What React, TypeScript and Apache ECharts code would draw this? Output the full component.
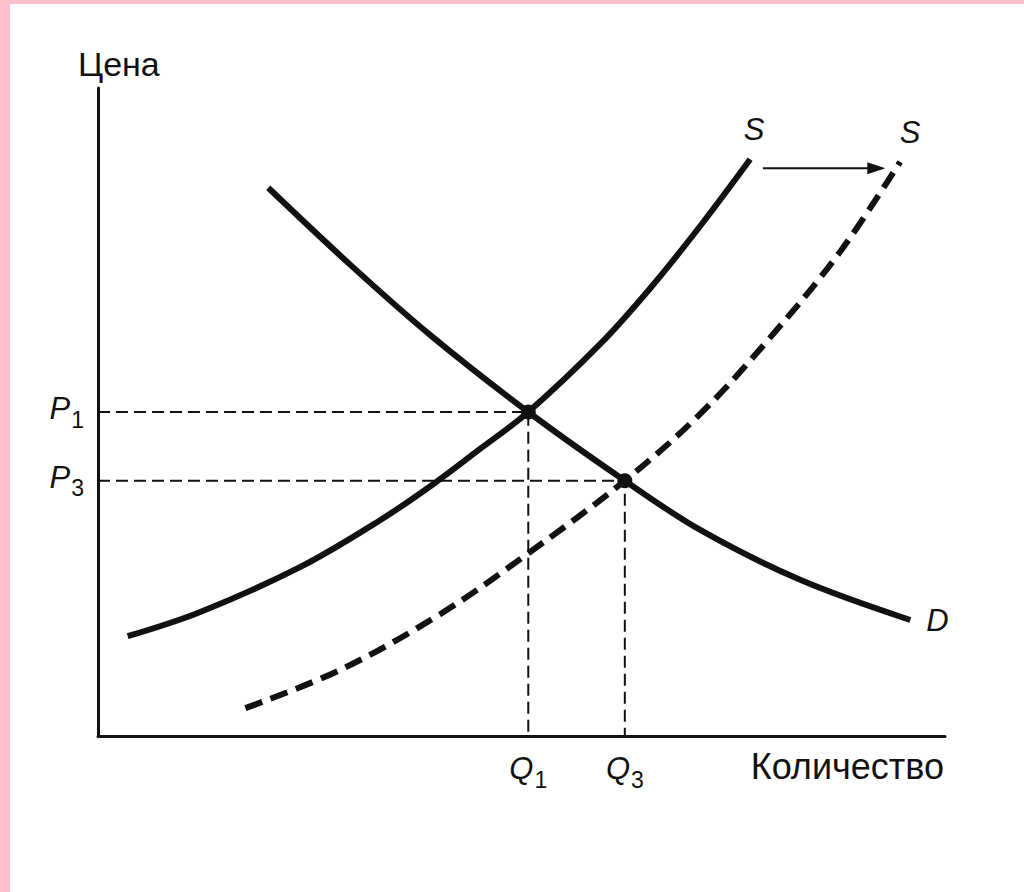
import React, { useEffect, useRef } from "react";
import * as echarts from "echarts";

// Curves (quantity, price) in axis units 0..100
const supplyS: [number, number][] = [
  [3.5, 15.4], [12, 19.1], [23.9, 26.1], [33.3, 33.3], [39.4, 38.7], [45.1, 44.3],
  [50.8, 50], [59.3, 60.5], [65.2, 69.1], [71.1, 78.7], [77, 89],
];
const supplyS2: [number, number][] = [
  [17.4, 4.3], [28.6, 10.2], [40.4, 18.8], [50.8, 28.2], [62.2, 39.4],
  [71.1, 49.7], [79.3, 61.4], [87.6, 74.7], [94.7, 88.6],
];
const demandD: [number, number][] = [
  [20.1, 84.6], [29.8, 72.7], [39.2, 61.9], [50.8, 50], [62.2, 39.4],
  [71.1, 31.8], [82.9, 24.1], [95.9, 17.9],
];
const Q1 = 50.8;
const Q3 = 62.2;
const P1 = 50;
const P3 = 39.4;
const shiftArrow: [number, number][] = [[78.5, 87.6], [92.6, 87.6]];
const yTitle = "Цена";
const xTitle = "Количество";

const INK = "#111";
const FONT = "Liberation Sans, Arial, Helvetica, sans-serif";

export default function App() {
  const ref = useRef<HTMLDivElement>(null);
  useEffect(() => {
    document.body.style.margin = "0";
    const chart = echarts.init(ref.current!, null, { renderer: "svg" });
    const sub = (v: string) => `{p|${v.charAt(0)}}{s|${v.slice(1)}}`;
    const rich = {
      p: { fontSize: 31, fontStyle: "italic", fontFamily: FONT, color: INK, lineHeight: 34, verticalAlign: "bottom" },
      s: { fontSize: 23, fontFamily: FONT, color: INK, lineHeight: 34, verticalAlign: "bottom", padding: [0, 0, -7, 1] },
    };
    const letter = { fontSize: 31, fontStyle: "italic", fontFamily: FONT, color: INK };
    chart.setOption({
      animation: false,
      backgroundColor: "#fff",
      grid: { left: 98, top: 88, width: 847, height: 648 },
      xAxis: {
        type: "value", min: 0, max: 100,
        axisLine: { show: true, lineStyle: { color: INK, width: 3 } },
        axisTick: { show: false }, axisLabel: { show: false }, splitLine: { show: false },
      },
      yAxis: {
        type: "value", min: 0, max: 100,
        axisLine: { show: true, lineStyle: { color: INK, width: 3 } },
        axisTick: { show: false }, axisLabel: { show: false }, splitLine: { show: false },
      },
      graphic: [
        { type: "rect", shape: { x: 0, y: 0, width: 10, height: 892 }, style: { fill: "#FFC0CB" } },
        { type: "rect", shape: { x: 0, y: 0, width: 1024, height: 4 }, style: { fill: "#FFC0CB" } },
        { type: "text", x: 78, y: 47, style: { text: yTitle, font: `34px ${FONT}`, fill: INK } },
        { type: "text", x: 944, y: 748, style: { text: xTitle, font: `36px ${FONT}`, fill: INK, align: "right" } },
      ],
      series: [
        {
          type: "line", data: [[0, P1], [Q1, P1], [Q1, 0]], symbol: "none", silent: true,
          lineStyle: { color: INK, width: 2, type: [12, 6] },
        },
        {
          type: "line", data: [[0, P3], [Q3, P3], [Q3, 0]], symbol: "none", silent: true,
          lineStyle: { color: INK, width: 2, type: [12, 6] },
        },
        {
          type: "line", data: supplyS, smooth: 0.35, symbol: "none",
          lineStyle: { color: INK, width: 6, cap: "butt" },
        },
        {
          type: "line", data: supplyS2, smooth: 0.35, symbol: "none",
          lineStyle: { color: INK, width: 6, type: [18, 9], cap: "butt" },
        },
        {
          type: "line", data: demandD, smooth: 0.35, symbol: "none",
          lineStyle: { color: INK, width: 6, cap: "butt" },
        },
        {
          type: "line", data: shiftArrow, symbol: "none", silent: true,
          lineStyle: { color: INK, width: 2 },
          markPoint: {
            silent: true, symbol: "triangle", symbolSize: [12, 18], symbolRotate: -90,
            itemStyle: { color: INK }, label: { show: false },
            data: [{ coord: shiftArrow[1], symbolOffset: [-6, 0] }],
          },
        },
        {
          type: "scatter", data: [[Q1, P1], [Q3, P3]], symbolSize: 15,
          itemStyle: { color: INK, opacity: 1 },
        },
        {
          type: "scatter", symbolSize: 0, silent: true,
          itemStyle: { opacity: 1, color: INK },
          data: [
            { value: [0, P1], label: { show: true, color: INK, position: "left", distance: 14, offset: [0, -5], formatter: sub("P1"), rich } },
            { value: [0, P3], label: { show: true, color: INK, position: "left", distance: 14, offset: [0, -5], formatter: sub("P3"), rich } },
            { value: [Q1, 0], label: { show: true, color: INK, position: "bottom", distance: 14, formatter: sub("Q1"), rich } },
            { value: [Q3, 0], label: { show: true, color: INK, position: "bottom", distance: 14, formatter: sub("Q3"), rich } },
            { value: supplyS[supplyS.length - 1], label: { show: true, position: "top", distance: 14, offset: [4, 0], formatter: "S", ...letter } },
            { value: supplyS2[supplyS2.length - 1], label: { show: true, position: "top", distance: 14, offset: [10, 0], formatter: "S", ...letter } },
            { value: demandD[demandD.length - 1], label: { show: true, position: "right", distance: 16, formatter: "D", ...letter } },
          ],
        },
      ],
    });
    return () => chart.dispose();
  }, []);
  return <div ref={ref} style={{ position: "fixed", left: 0, top: 0, width: 1024, height: 892 }} />;
}
